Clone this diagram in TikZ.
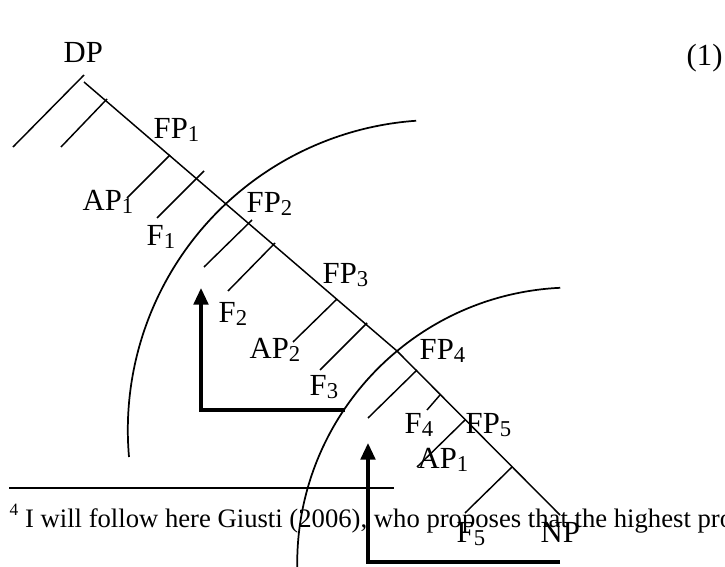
\documentclass[tikz,border=0pt]{standalone}
\usepackage{fontspec}
\setmainfont{Liberation Serif}
\usetikzlibrary{arrows.meta}
\newcommand{\lsub}[1]{\raisebox{-2.5pt}{\fontsize{17}{19}\selectfont #1}}
\begin{document}
\begin{tikzpicture}[x=0.75pt,y=-0.75pt,line width=1.1pt,
    lbl/.style={anchor=base west,inner sep=0pt,font=\fontsize{23}{27}\selectfont},
    shell/.style={line width=1.3pt},
    moveup/.style={line width=2.4pt,-{Triangle[width=11pt,length=12.5pt]}}]
  \useasboundingbox (0,0) rectangle (725,567);
  \clip (0,0) rectangle (725,567);
  \coordinate (spine-top) at (84,82);
  \coordinate (spine-bend) at (397,351);
  \coordinate (spine-end) at (560,515);
  \draw (spine-top) -- (spine-bend) -- (spine-end);
  \foreach \br/\xt/\yt/\xb/\yb in {dpa/84/75/13/147, dpb/107/99/61/147,
      ba/170/155/127/198, bb/204/171/157/218, bc/252/220/204/267,
      bd/275/243/228/291, be/337/299/293/342, bf/367/323/320/370,
      bg/417/370/368/418, bh/440/395/427/410, bi/465/420/417/467,
      bj/512/467/465/513}{
    \coordinate (\br-t) at (\xt,\yt);
    \coordinate (\br-b) at (\xb,\yb);
    \draw (\br-t) -- (\br-b);
  }
  \draw[shell] (129,457) arc[start angle=175,end angle=266,radius=310];
  \draw[shell] (297.4,573.1) arc[start angle=178,end angle=267.3,radius=276];
  \coordinate (mv1-start) at (345,410);
  \coordinate (mv1-corner) at (201,410);
  \coordinate (mv1-tip) at (201,288);
  \draw[moveup] (mv1-start) -- (mv1-corner) -- (mv1-tip);
  \coordinate (mv2-start) at (560,562);
  \coordinate (mv2-corner) at (368,562);
  \coordinate (mv2-tip) at (368,443);
  \draw[moveup] (mv2-start) -- (mv2-corner) -- (mv2-tip);
  \node[lbl] (dp) at (63,63) {DP};
  \node[lbl] (fp1) at (153,138) {FP\lsub{1}};
  \node[lbl] (ap1) at (82,210) {AP\lsub{1}};
  \node[lbl] (f1) at (146,245) {F\lsub{1}};
  \node[lbl] (fp2) at (246,212) {FP\lsub{2}};
  \node[lbl] (f2) at (218,322) {F\lsub{2}};
  \node[lbl] (fp3) at (322,283) {FP\lsub{3}};
  \node[lbl] (ap2) at (249,358) {AP\lsub{2}};
  \node[lbl] (f3) at (309,395) {F\lsub{3}};
  \node[lbl] (fp4) at (419,359) {FP\lsub{4}};
  \node[lbl] (f4) at (404,433) {F\lsub{4}};
  \node[lbl] (fp5) at (465,433) {FP\lsub{5}};
  \node[lbl] (ap1b) at (417,468) {AP\lsub{1}};
  \node[lbl] (f5) at (456,542) {F\lsub{5}};
  \node[lbl] (np) at (540,542) {NP};
  \node[lbl] (exnum) at (686,65) {(1)};
  \coordinate (rule-l) at (9,488);
  \coordinate (rule-r) at (394,488);
  \draw[line width=1.5pt] (rule-l) -- (rule-r);
  \node[anchor=base west,inner sep=0pt,font=\fontsize{20}{24}\selectfont] (fn) at (9,527)
    {\raisebox{9pt}{\fontsize{13}{15}\selectfont 4} I will follow here Giusti (2006), who proposes that the highest pro};
\end{tikzpicture}
\end{document}
